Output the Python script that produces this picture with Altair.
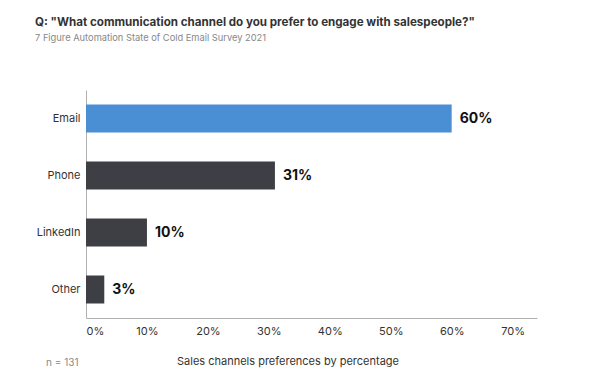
import altair as alt
import pandas as pd

channels = ["Email", "Phone", "LinkedIn", "Other"]
values = [60, 31, 10, 3]
labels = ["60%", "31%", "10%", "3%"]
colors = ["#4a8fd3", "#3e3f44", "#3e3f44", "#3e3f44"]
x_ticks = [0, 10, 20, 30, 40, 50, 60, 70]
note = ["n = 131"]

df = pd.DataFrame({"channel": channels, "value": values, "label": labels, "color": colors})

W, H = 451, 228
FONT = "Inter"

base = alt.Chart(df)

bars = base.mark_bar(size=28).encode(
    y=alt.Y("channel:N", sort=channels,
            axis=alt.Axis(title=None, ticks=False, domain=True, domainColor="#b0b0b0",
                          labelFontSize=11, labelColor="#333333", labelPadding=6,
                          labelFont=FONT)),
    x=alt.X("value:Q", scale=alt.Scale(domain=[0, 74], nice=False),
            axis=alt.Axis(values=x_ticks, format="d", labelExpr="datum.value + '%'",
                          title="Sales channels preferences by percentage",
                          titleFontSize=11, titleFontWeight="normal", titleColor="#333333",
                          titleFont=FONT, titlePadding=19, titleX=W / 2 - 24,
                          ticks=False, grid=False, domainColor="#b0b0b0",
                          labelFontSize=11, labelColor="#333333", labelPadding=7,
                          labelFont=FONT)),
    color=alt.Color("color:N", scale=None),
)

text = base.mark_text(align="left", baseline="middle", dx=8, fontSize=14,
                      fontWeight="bold", font=FONT, color="#111111").encode(
    y=alt.Y("channel:N", sort=channels),
    x="value:Q",
    text="label:N",
)

note_df = pd.DataFrame({"t": note})
note_layer = alt.Chart(note_df).mark_text(align="left", baseline="middle", fontSize=10,
                                          font=FONT, color="#888888").encode(
    text="t:N", x=alt.value(-40), y=alt.value(H + 45))

chart = alt.layer(bars, text, note_layer).properties(
    width=W, height=H,
    autosize=alt.AutoSizeParams(type="none"),
    padding={"left": 78, "top": 82, "right": 50, "bottom": 50},
    background="white",
    title=alt.TitleParams(
        text='Q: "What communication channel do you prefer to engage with salespeople?"',
        subtitle="7 Figure Automation State of Cold Email Survey 2021",
        anchor="start", frame="group", dx=-51, offset=47,
        font=FONT, fontSize=11.6, fontWeight="bold", color="#333333",
        subtitleFont=FONT, subtitleFontSize=9.3, subtitleColor="#888888", subtitlePadding=5,
    ),
).configure_view(strokeWidth=0)

chart.save("out.html", embed_options={"renderer": "svg", "actions": False})
